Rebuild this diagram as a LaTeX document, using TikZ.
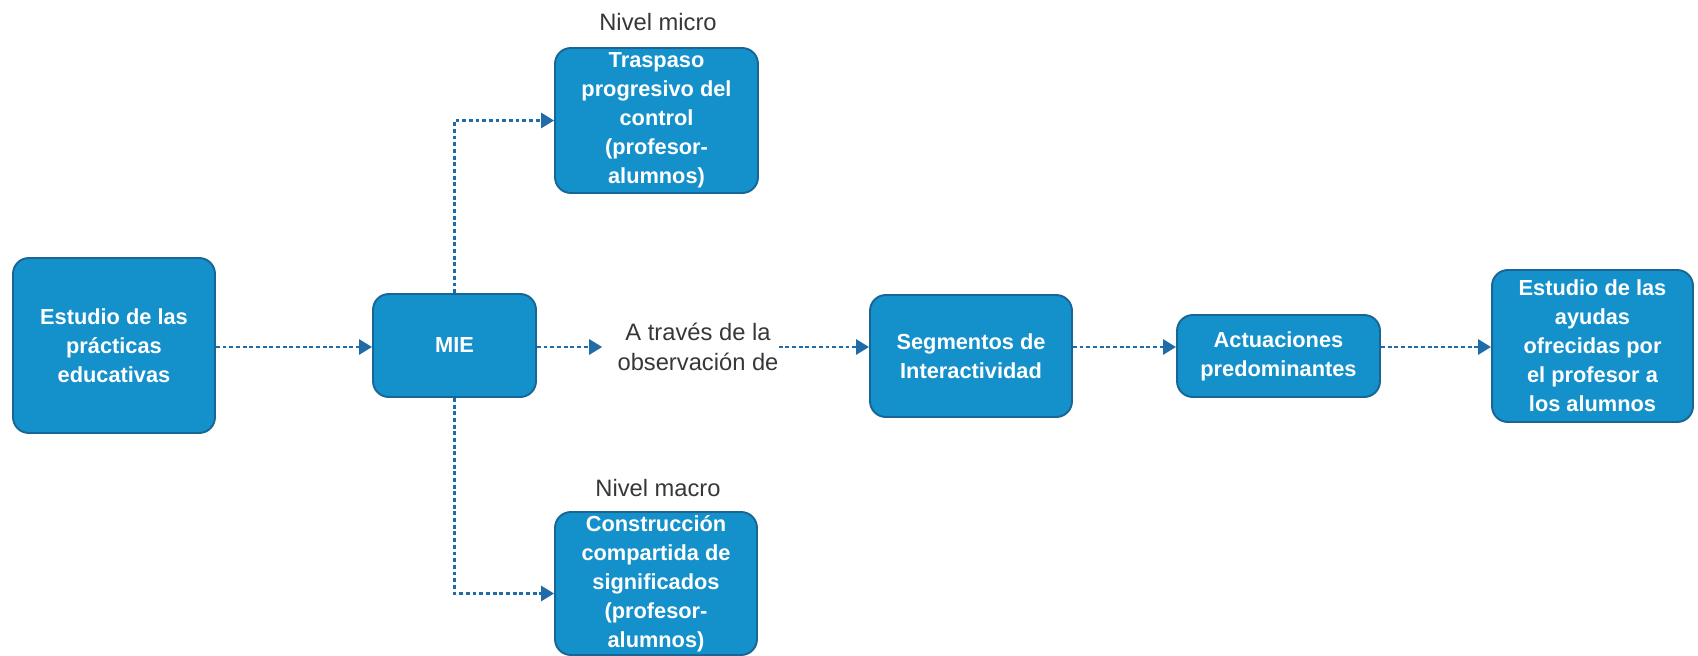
\documentclass[tikz,border=0pt]{standalone}
\usepackage{fontspec}
\setmainfont{Liberation Sans}
\usepackage{xcolor}
\usetikzlibrary{arrows.meta, positioning, calc}

\definecolor{boxfill}{RGB}{20,144,203}
\definecolor{boxline}{RGB}{24,102,150}
\definecolor{flowblue}{RGB}{32,108,168}
\definecolor{lblgray}{RGB}{55,55,55}

\tikzset{
	stage/.style={draw=boxline, fill=boxfill, line width=1.1pt, rounded corners=9pt,
		text=white, align=center, inner sep=0pt,
		font=\bfseries\fontsize{12.4}{16.5}\selectfont},
	note/.style={text=lblgray, align=center, inner sep=0pt,
		font=\fontsize{13.5}{17}\selectfont},
	flow/.style={draw=flowblue, line width=1.6pt, dash pattern=on 2.2pt off 1.6pt,
		-{Triangle[length=0.26cm, width=0.3cm]}}
}

\begin{document}
\begin{tikzpicture}[x=0.02cm, y=-0.02cm]
			\useasboundingbox (0,0) rectangle (1698,656);
			% main row
			\node[stage, minimum width=4.04cm, minimum height=3.5cm] (estudio) at (114,345.5) {Estudio de las\\prácticas\\educativas};
			\node[stage, minimum width=3.26cm, minimum height=2.06cm] (mie) at (454.5,345.5) {MIE};
			\node[note] (via) at (698,347) {A través de la\\observación de};
			\node[stage, minimum width=4.04cm, minimum height=2.44cm] (seg) at (971,356) {Segmentos de\\Interactividad};
			\node[stage, minimum width=4.06cm, minimum height=1.64cm] (actu) at (1278.5,356) {Actuaciones\\predominantes};
			\node[stage, minimum width=4.02cm, minimum height=3.04cm] (ayudas) at (1592.5,346) {Estudio de las\\ayudas\\ofrecidas por\\el profesor a\\los alumnos};
			% two levels
			\node[stage, minimum width=4.06cm, minimum height=2.9cm] (micro) at (656.5,120.5) {Traspaso\\progresivo del\\control\\(profesor-\\alumnos)};
			\node[note] (microlbl) at (658,22) {Nivel micro};
			\node[stage, minimum width=4.04cm, minimum height=2.86cm] (macro) at (656,583.5) {Construcción\\compartida de\\significados\\(profesor-\\alumnos)};
			\node[note] (macrolbl) at (658,488) {Nivel macro};
			% connectors
			\draw[flow] (estudio.east |- via.east) -- (mie.west |- via.east);
			\draw[flow, shorten >=0.3cm] (mie.east |- via.east) -- (via.west);
			\draw[flow] (via.east) -- (via.east -| seg.west);
			\draw[flow] (seg.east |- via.east) -- (actu.west |- via.east);
			\draw[flow] (actu.east |- via.east) -- (ayudas.west |- via.east);
			\draw[flow] (mie.north) |- (micro.west);
			\draw[flow] (mie.south) |- ([yshift=-0.2cm]macro.west);
		\end{tikzpicture}
\end{document}
